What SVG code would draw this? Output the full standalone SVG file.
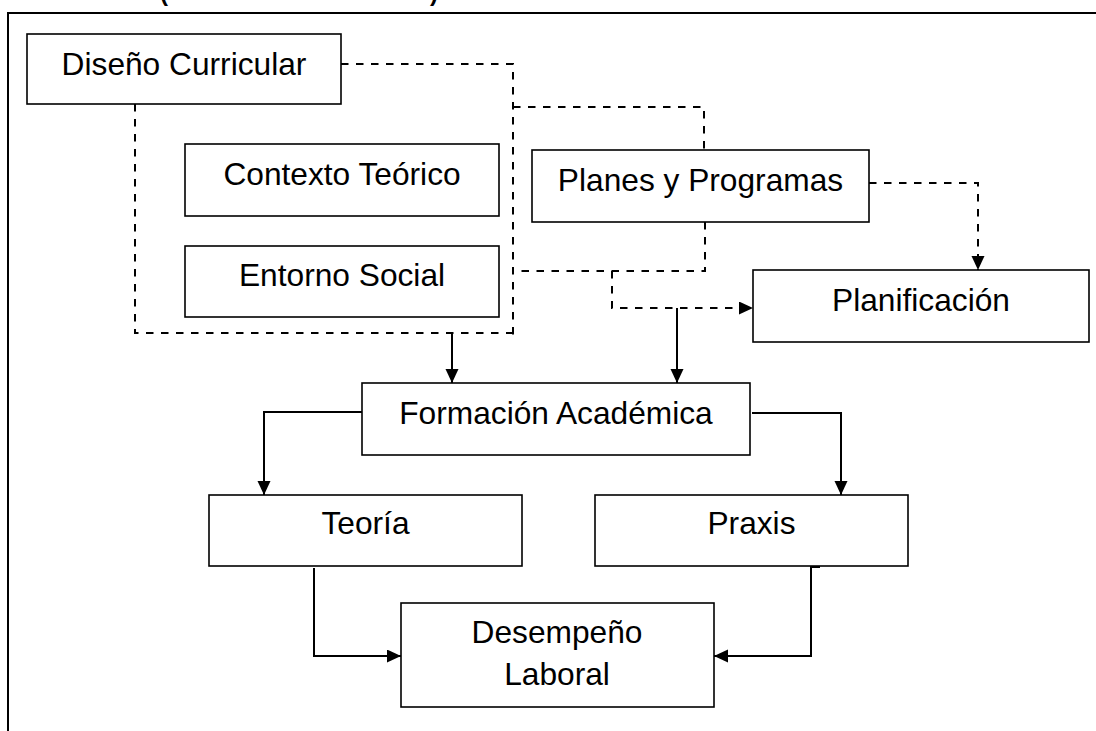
<svg xmlns="http://www.w3.org/2000/svg" width="1096" height="731" viewBox="0 0 1096 731">
<defs>
<style>
.box{fill:#fff;stroke:#000;stroke-width:1.6}
.lbl{font-family:"Liberation Sans",Arial,sans-serif;font-size:31.7px;fill:#000;text-anchor:middle}
.ttl{font-family:"Liberation Sans",Arial,sans-serif;font-size:24px;font-weight:bold;fill:#000}
.dash{fill:none;stroke:#000;stroke-width:2;stroke-dasharray:7.5 7.5}
.solid{fill:none;stroke:#000;stroke-width:2}
</style>
<marker id="arr" markerUnits="userSpaceOnUse" markerWidth="15" markerHeight="14" refX="14" refY="6.5" orient="auto">
<path d="M0,0 L14,6.5 L0,13 Z" fill="#000"/>
</marker>
</defs>
<rect width="1096" height="731" fill="#fff"/>
<text class="ttl" x="160" y="1">(</text>
<text class="ttl" x="430" y="1">)</text>
<path d="M8,731 V13 H1096" fill="none" stroke="#000" stroke-width="2"/>
<g id="connectors">
<path class="dash" d="M341,64 H513 V336"/>
<path class="dash" d="M135,104 V333 H513"/>
<path class="dash" d="M513,107 H704 V150"/>
<path class="dash" d="M705,222 V271 H513"/>
<path class="dash" d="M612,271 V308 H753" marker-end="url(#arr)"/>
<path class="dash" d="M869,183 H978 V270" marker-end="url(#arr)"/>
<path class="solid" d="M452,333 V383" marker-end="url(#arr)"/>
<path class="solid" d="M677,308 V383" marker-end="url(#arr)"/>
<path class="solid" d="M362,412 H264 V495" marker-end="url(#arr)"/>
<path class="solid" d="M752,413 H841 V495" marker-end="url(#arr)"/>
<path class="solid" d="M314,568 V656 H401" marker-end="url(#arr)"/>
<path class="solid" d="M820,567 H811 V656 H714" marker-end="url(#arr)"/>
</g>
<g id="diseno"><rect class="box" x="27" y="34" width="314" height="70"/><text class="lbl" x="184" y="75">Diseño Curricular</text></g>
<g id="contexto"><rect class="box" x="185" y="144" width="314" height="72"/><text class="lbl" x="342" y="185">Contexto Teórico</text></g>
<g id="entorno"><rect class="box" x="185" y="246" width="314" height="71"/><text class="lbl" x="342" y="286">Entorno Social</text></g>
<g id="planes"><rect class="box" x="532" y="150" width="337" height="72"/><text class="lbl" x="700.5" y="191">Planes y Programas</text></g>
<g id="planificacion"><rect class="box" x="753" y="270" width="336" height="72"/><text class="lbl" x="921" y="311">Planificación</text></g>
<g id="formacion"><rect class="box" x="362" y="383" width="388" height="72"/><text class="lbl" x="556" y="424">Formación Académica</text></g>
<g id="teoria"><rect class="box" x="209" y="495" width="313" height="71"/><text class="lbl" x="365.5" y="534">Teoría</text></g>
<g id="praxis"><rect class="box" x="595" y="495" width="313" height="71"/><text class="lbl" x="751.5" y="534">Praxis</text></g>
<g id="desempeno"><rect class="box" x="401" y="603" width="313" height="104"/><text class="lbl" x="557" y="643">Desempeño</text><text class="lbl" x="557" y="685">Laboral</text></g>
</svg>
